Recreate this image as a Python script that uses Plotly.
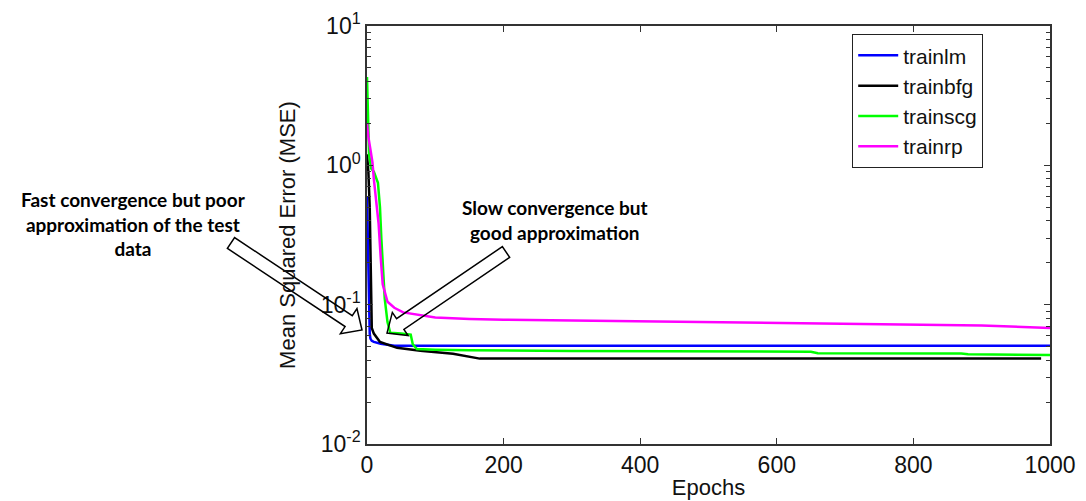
import plotly.graph_objects as go
import math

# ---------------- data ----------------
lm_epochs = [0, 1, 2, 3, 4, 5, 7, 10, 20, 40, 1000]
lm_mse = [0.6, 0.35, 0.15, 0.08, 0.062, 0.057, 0.055, 0.054, 0.0525, 0.0508, 0.0508]

bfg_epochs = [0, 2, 4, 5, 6, 7, 10, 19, 44, 78, 126, 155, 165, 987]
bfg_mse = [1.2, 0.9, 0.5, 0.2, 0.1, 0.068, 0.062, 0.054, 0.049, 0.0467, 0.0445, 0.0416, 0.041, 0.041]

scg_epochs = [0, 1, 3, 6, 10, 16, 19, 21, 23, 26, 30, 34, 50, 64, 67, 73, 100, 150,
              300, 500, 650, 660, 870, 880, 1000]
scg_mse = [4.3, 2.5, 1.2, 0.95, 0.9, 0.75, 0.5, 0.3, 0.18, 0.11, 0.075, 0.063, 0.062,
           0.061, 0.052, 0.048, 0.0475, 0.047, 0.0465, 0.046, 0.046, 0.0448, 0.0446,
           0.044, 0.0435]

rp_epochs = [0, 2, 5, 8, 10, 13, 17, 20, 23, 30, 40, 53, 100, 150, 200, 300, 400,
             500, 600, 700, 800, 900, 1000]
rp_mse = [2.0, 1.6, 1.3, 1.05, 0.8, 0.6, 0.38, 0.22, 0.14, 0.105, 0.095, 0.088, 0.081,
          0.079, 0.078, 0.077, 0.076, 0.075, 0.074, 0.0735, 0.0725, 0.071, 0.068]

series_names = ["trainlm", "trainbfg", "trainscg", "trainrp"]
series_colors = ["#0000ff", "#000000", "#00ff00", "#ff00ff"]

y_tickvals = [0.01, 0.1, 1, 10]
y_ticktext = ["10<sup>-2</sup>", "10<sup>-1</sup>", "10<sup>0</sup>", "10<sup>1</sup>"]
x_tickvals = [0, 200, 400, 600, 800, 1000]

note_fast = "Fast convergence but poor<br>approximation of the test<br>data"
note_slow = "Slow convergence but<br>good approximation"

# ---------------- layout geometry (screen pixels) ----------------
OFF = 8  # page body margin
W_PX, H_PX = 1086, 501
L, R, T, B = 367, 1050, 26, 444
PW, PH = R - L, B - T


def px(xp):
    return (xp - L) / PW


def py(yp):
    return (B - yp) / PH


def block_arrow(tail, tip, shaft_w, head_w, head_len):
    tx, ty = tail
    hx, hy = tip
    dx, dy = hx - tx, hy - ty
    ln = math.hypot(dx, dy)
    ux, uy = dx / ln, dy / ln
    nx, ny = -uy, ux
    bx, by = hx - ux * head_len, hy - uy * head_len
    pts = [
        (tx + nx * shaft_w / 2, ty + ny * shaft_w / 2),
        (bx + nx * shaft_w / 2, by + ny * shaft_w / 2),
        (bx + nx * head_w / 2, by + ny * head_w / 2),
        (hx, hy),
        (bx - nx * head_w / 2, by - ny * head_w / 2),
        (bx - nx * shaft_w / 2, by - ny * shaft_w / 2),
        (tx - nx * shaft_w / 2, ty - ny * shaft_w / 2),
    ]
    path = "M " + " L ".join(f"{px(a):.5f},{py(b):.5f}" for a, b in pts) + " Z"
    return dict(type="path", xref="paper", yref="paper", path=path,
                line=dict(color="black", width=1.5), fillcolor="rgba(0,0,0,0)",
                layer="above")


fig = go.Figure()
for name, color, xs, ys in zip(series_names, series_colors,
                               [lm_epochs, bfg_epochs, scg_epochs, rp_epochs],
                               [lm_mse, bfg_mse, scg_mse, rp_mse]):
    fig.add_trace(go.Scatter(x=xs, y=ys, mode="lines", name=name,
                             line=dict(color=color, width=2.5)))

axis_font = dict(family="Liberation Sans, Arial, sans-serif", size=22, color="#111111")
tick_font = dict(family="Liberation Sans, Arial, sans-serif", size=23, color="#111111")

fig.update_layout(
    width=W_PX - OFF, height=H_PX - OFF,
    margin=dict(l=L - OFF, r=W_PX - R, t=T - OFF, b=H_PX - B, autoexpand=False),
    paper_bgcolor="white", plot_bgcolor="white",
    font=axis_font,
    showlegend=True,
    legend=dict(x=px(852), y=py(34), xanchor="left", yanchor="top",
                bgcolor="white", bordercolor="#222222", borderwidth=1.2,
                font=dict(family="Liberation Sans, Arial, sans-serif", size=21, color="#111111"),
                itemwidth=40, tracegroupgap=0),
    xaxis=dict(range=[0, 1000], tickvals=x_tickvals, ticks="inside", ticklen=6,
               tickcolor="#333333", showline=True, linecolor="#333333", linewidth=1.5,
               mirror="allticks", showgrid=False, zeroline=False, tickfont=tick_font,
               title=dict(text="Epochs", standoff=2, font=axis_font)),
    yaxis=dict(type="log", range=[-2, 1], tickvals=y_tickvals, ticktext=y_ticktext,
               ticks="inside", ticklen=6, tickcolor="#333333", showline=True,
               linecolor="#333333", linewidth=1.5, mirror="allticks", showgrid=False,
               zeroline=False, tickfont=tick_font,
               minor=dict(ticks="inside", ticklen=4, tickcolor="#333333", dtick="D1",
                          showgrid=False),
               title=dict(text="Mean Squared Error (MSE)", standoff=19, font=axis_font)),
    shapes=[
        block_arrow((231, 243), (362, 330), 13, 30, 16),
        block_arrow((506, 252), (387, 333), 13, 28, 16),
    ],
    annotations=[
        dict(text=note_fast, xref="paper", yref="paper", x=px(133), y=py(224),
             showarrow=False, xanchor="center", yanchor="middle", align="center",
             font=dict(family="Lato, sans-serif", size=19, color="black", weight="bold")),
        dict(text=note_slow, xref="paper", yref="paper", x=px(555), y=py(220),
             showarrow=False, xanchor="center", yanchor="middle", align="center",
             font=dict(family="Lato, sans-serif", size=19, color="black", weight="bold")),
    ],
)

fig.write_html("out.html")
